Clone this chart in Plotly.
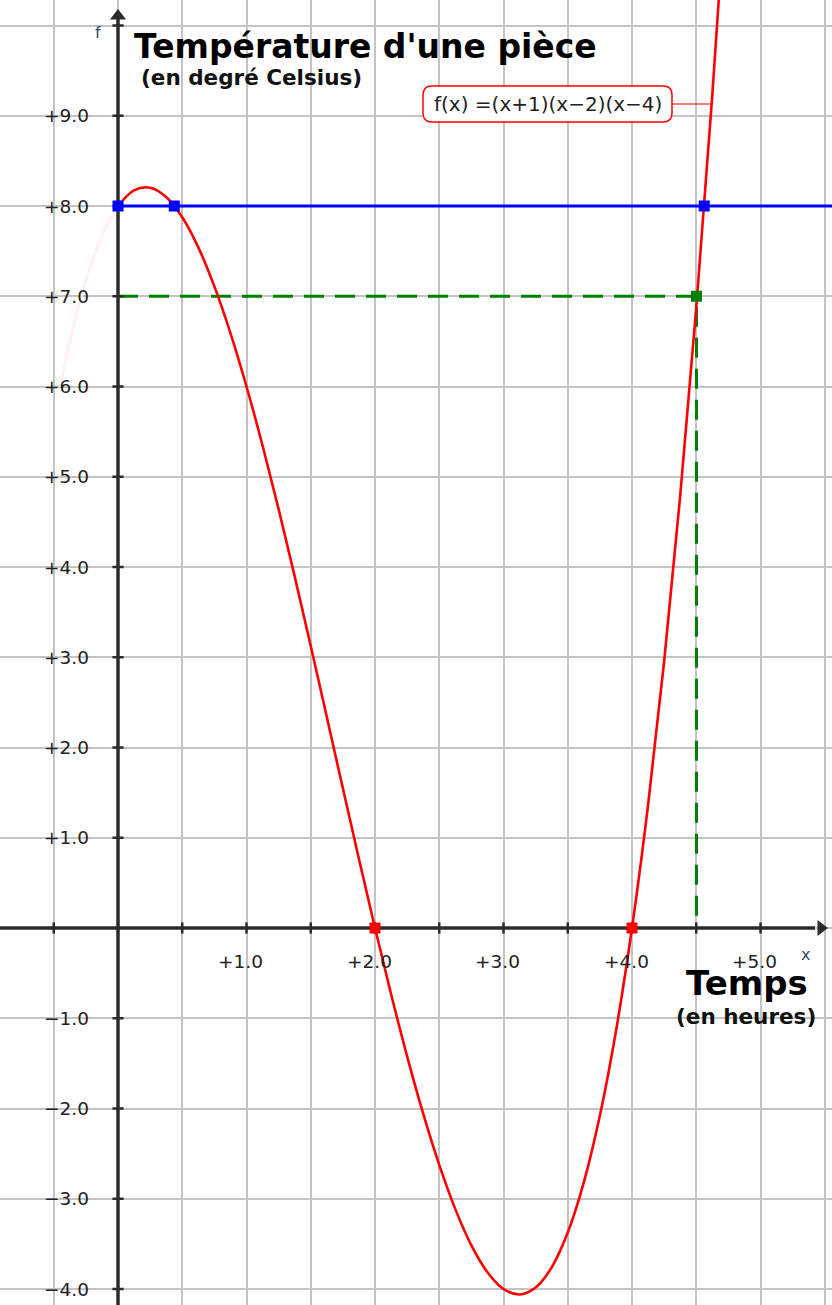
import plotly.graph_objects as go

# ---------------- data ----------------
curve_x = [0, 0.125, 0.25, 0.375, 0.5, 0.625, 0.75, 0.875, 1.0, 1.125, 1.25, 1.375, 1.5,
           1.625, 1.75, 1.875, 2.0, 2.125, 2.25, 2.375, 2.5, 2.625, 2.75, 2.875, 3.0,
           3.125, 3.25, 3.375, 3.5, 3.625, 3.75, 3.875, 4.0, 4.125, 4.25, 4.375, 4.5,
           4.625, 4.75]
curve_y = [8.0, 8.174, 8.203, 8.100, 7.875, 7.541, 7.109, 6.592, 6.0, 5.346, 4.641, 3.896,
           3.125, 2.338, 1.547, 0.764, 0.0, -0.732, -1.422, -2.057, -2.625, -3.115, -3.516,
           -3.814, -4.0, -4.061, -3.984, -3.760, -3.375, -2.818, -2.078, -1.143, 0.0, 1.361,
           2.953, 4.787, 6.875, 9.229, 11.859]
faint_x = [-0.45, -0.375, -0.25, -0.125, 0]
faint_y = [5.996, 6.494, 7.172, 7.670, 8.0]

level_blue = 8.0
blue_pts_x = [0, 0.438, 4.562]
blue_pts_y = [8, 8, 8]
root_x = [2, 4]
root_y = [0, 0]
green_pt_x = [4.502]
green_pt_y = [7]

x_tick_vals = [1, 2, 3, 4, 5]
x_tick_text = ["+1.0", "+2.0", "+3.0", "+4.0", "+5.0"]
y_tick_vals = [9, 8, 7, 6, 5, 4, 3, 2, 1, -1, -2, -3, -4]
y_tick_text = ["+9.0", "+8.0", "+7.0", "+6.0", "+5.0", "+4.0", "+3.0", "+2.0", "+1.0",
               "\u22121.0", "\u22122.0", "\u22123.0", "\u22124.0"]
x_minor_ticks = [-0.5, 0.5, 1, 1.5, 2, 2.5, 3, 3.5, 4, 4.5, 5]
y_minor_ticks = [-4, -3, -2, -1, 1, 2, 3, 4, 5, 6, 7, 8, 9, 10]

title_text = "Température d'une pièce"
subtitle_text = "(en degré Celsius)"
xlabel_text = "Temps"
xsub_text = "(en heures)"
legend_text = "f(x) =(x+1)(x\u22122)(x\u22124)"

# ---------------- geometry helpers ----------------
W, H = 832, 1305
X0PX, Y0PX = 118, 928
SX, SY = 128.5, 90.25
XMIN, XMAX = -X0PX / SX, (W - X0PX) / SX
YMIN, YMAX = -(H - Y0PX) / SY, Y0PX / SY


def X(px):
    return (px - X0PX) / SX


def Y(py):
    return (Y0PX - py) / SY


FONT = "DejaVu Sans"
AXC = "#2b2b2b"

fig = go.Figure()

# faint (white) part of curve for x<0
fig.add_trace(go.Scatter(x=faint_x, y=faint_y, mode="lines",
                         line=dict(color="rgba(255,238,238,0.95)", width=2.5, shape="spline"),
                         hoverinfo="skip", showlegend=False))

# green dashed lines
fig.add_trace(go.Scatter(x=[0, green_pt_x[0], green_pt_x[0]], y=[green_pt_y[0], green_pt_y[0], 0],
                         mode="lines", line=dict(color="#008000", width=3, dash="20px,11px"),
                         showlegend=False, hoverinfo="skip"))

# blue level line
fig.add_trace(go.Scatter(x=[0, XMAX], y=[level_blue, level_blue], mode="lines",
                         line=dict(color="#0000ff", width=3), showlegend=False, hoverinfo="skip"))

# red curve
fig.add_trace(go.Scatter(x=curve_x, y=curve_y, mode="lines",
                         line=dict(color="#ff0000", width=2.6, shape="spline", smoothing=1.0),
                         showlegend=False, hoverinfo="skip"))

# axis tick marks
fig.add_trace(go.Scatter(x=x_minor_ticks, y=[0] * len(x_minor_ticks), mode="markers",
                         marker=dict(symbol="line-ns", size=8, line=dict(color=AXC, width=2.5)),
                         showlegend=False, hoverinfo="skip"))
fig.add_trace(go.Scatter(x=[0] * len(y_minor_ticks), y=y_minor_ticks, mode="markers",
                         marker=dict(symbol="line-ew", size=8, line=dict(color=AXC, width=2.5)),
                         showlegend=False, hoverinfo="skip"))

# arrows
fig.add_trace(go.Scatter(x=[0], y=[Y(16)], mode="markers",
                         marker=dict(symbol="triangle-up", size=14, color=AXC),
                         showlegend=False, hoverinfo="skip"))
fig.add_trace(go.Scatter(x=[X(821)], y=[0], mode="markers",
                         marker=dict(symbol="triangle-right", size=14, color=AXC),
                         showlegend=False, hoverinfo="skip"))

# points
fig.add_trace(go.Scatter(x=blue_pts_x, y=blue_pts_y, mode="markers",
                         marker=dict(symbol="square", size=11, color="#0000ff"),
                         showlegend=False, hoverinfo="skip"))
fig.add_trace(go.Scatter(x=root_x, y=root_y, mode="markers",
                         marker=dict(symbol="square", size=11, color="#ff0000"),
                         showlegend=False, hoverinfo="skip"))
fig.add_trace(go.Scatter(x=green_pt_x, y=green_pt_y, mode="markers",
                         marker=dict(symbol="square", size=11, color="#008000"),
                         showlegend=False, hoverinfo="skip"))

shapes = []
# axes lines
shapes.append(dict(type="line", x0=XMIN, x1=X(815), y0=0, y1=0, layer="between",
                   line=dict(color=AXC, width=3.5)))
shapes.append(dict(type="line", x0=0, x1=0, y0=YMIN, y1=Y(14), layer="between",
                   line=dict(color=AXC, width=3.5)))

# legend box with rounded corners
bx0, bx1, by0, by1 = X(423), X(672), Y(122), Y(86)
rx, ry = 9 / SX, 9 / SY
path = (f"M {bx0 + rx},{by0} L {bx1 - rx},{by0} Q {bx1},{by0} {bx1},{by0 + ry} "
        f"L {bx1},{by1 - ry} Q {bx1},{by1} {bx1 - rx},{by1} L {bx0 + rx},{by1} "
        f"Q {bx0},{by1} {bx0},{by1 - ry} L {bx0},{by0 + ry} Q {bx0},{by0} {bx0 + rx},{by0} Z")
shapes.append(dict(type="path", path=path, fillcolor="white", layer="above",
                   line=dict(color="#ff0000", width=1.5)))
shapes.append(dict(type="line", x0=bx1, x1=4.62, y0=Y(104), y1=Y(104), layer="above",
                   line=dict(color="#ff0000", width=1.2)))

annotations = []
for v, t in zip(x_tick_vals, x_tick_text):
    annotations.append(dict(x=v, y=0, text=t, showarrow=False, xanchor="center", yanchor="middle",
                            xshift=-6, yshift=-33, font=dict(family=FONT, size=18.5, color="#222")))
for v, t in zip(y_tick_vals, y_tick_text):
    annotations.append(dict(x=0, y=v, text=t, showarrow=False, xanchor="right", yanchor="middle",
                            xshift=-27, yshift=0, font=dict(family=FONT, size=18.5, color="#222")))

annotations += [
    dict(x=X(98), y=Y(32), text="f", showarrow=False, xanchor="center", yanchor="middle",
         font=dict(family=FONT, size=16, color="#3a4a5a")),
    dict(x=X(805), y=Y(954), text="x", showarrow=False, xanchor="center", yanchor="middle",
         font=dict(family=FONT, size=16, color="#3a4a5a")),
    dict(x=X(132), y=Y(46), text=f"<b>{title_text}</b>", showarrow=False, xanchor="left",
         yanchor="middle", font=dict(family=FONT, size=33, color="black")),
    dict(x=X(139), y=Y(77), text=f"<b>{subtitle_text}</b>", showarrow=False, xanchor="left",
         yanchor="middle", font=dict(family=FONT, size=21.5, color="#111")),
    dict(x=X(810), y=Y(983), text=f"<b>{xlabel_text}</b>", showarrow=False, xanchor="right",
         yanchor="middle", font=dict(family=FONT, size=34, color="black")),
    dict(x=X(818), y=Y(1016), text=f"<b>{xsub_text}</b>", showarrow=False, xanchor="right",
         yanchor="middle", font=dict(family=FONT, size=21.5, color="#111")),
    dict(x=(bx0 + bx1) / 2, y=Y(104), text=legend_text, showarrow=False, xanchor="center",
         yanchor="middle", font=dict(family=FONT, size=20, color="#222")),
]

fig.update_layout(
    width=W, height=H, autosize=False,
    margin=dict(l=0, r=0, t=0, b=0, pad=0),
    paper_bgcolor="white", plot_bgcolor="white",
    xaxis=dict(range=[XMIN, XMAX], dtick=0.5, tick0=0, showgrid=True, gridcolor="#c4c4c4",
               gridwidth=2, zeroline=False, showticklabels=False, ticks="", fixedrange=True),
    yaxis=dict(range=[YMIN, YMAX], dtick=1, tick0=0, showgrid=True, gridcolor="#c4c4c4",
               gridwidth=2, zeroline=False, showticklabels=False, ticks="", fixedrange=True),
    shapes=shapes, annotations=annotations, showlegend=False,
)

fig.write_html("out.html", config={"displayModeBar": False},
               post_script="document.body.style.margin='0';")
